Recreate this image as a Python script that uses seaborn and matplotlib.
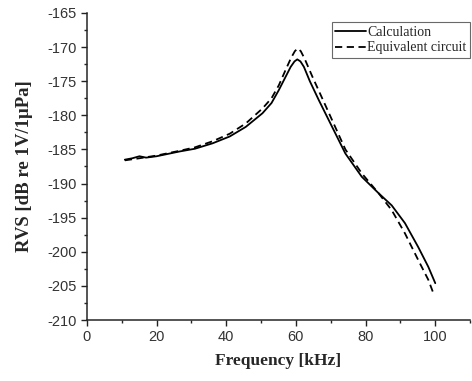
import numpy as np
import pandas as pd
import seaborn as sns
import matplotlib.pyplot as plt
from matplotlib.ticker import MultipleLocator

freq_calc = [10.9, 13, 15.1, 17, 20, 26.6, 31, 36.1, 41, 45.6, 50.4, 53, 55.1, 57, 58.5,
             59.6, 60.4, 61.3, 62.3, 64, 66.6, 70.4, 74.2, 78.9, 83.7, 87.5, 91.3, 95.1, 98, 100]
rvs_calc = [-186.5, -186.3, -186.0, -186.2, -186.0, -185.3, -184.9, -184.1, -183.1, -181.7,
            -179.7, -178.2, -176.3, -174.4, -172.9, -172.1, -171.8, -172.1, -172.9, -175.0,
            -177.8, -181.7, -185.6, -189.0, -191.4, -193.2, -195.8, -199.3, -202.2, -204.6]

freq_eq = [10.9, 15, 20, 26.6, 31, 36.1, 41, 45.6, 50.4, 53, 55.1, 57, 58.6, 59.7, 60.5,
           61.4, 62.5, 64.7, 69.5, 74.2, 78.9, 83.7, 87.5, 91.3, 95.1, 98, 99.7]
rvs_eq = [-186.6, -186.3, -185.9, -185.2, -184.7, -183.8, -182.7, -181.2, -179.0, -177.5,
          -175.6, -173.4, -171.6, -170.6, -170.2, -170.6, -171.7, -174.3, -179.7, -185.0,
          -188.5, -191.4, -193.9, -197.3, -201.2, -204.1, -206.4]

df = pd.concat([
    pd.DataFrame({'f': freq_calc, 'rvs': rvs_calc, 'src': 'Calculation'}),
    pd.DataFrame({'f': freq_eq, 'rvs': rvs_eq, 'src': 'Equivalent circuit'}),
])

sns.set_style('ticks')
plt.rcParams['font.family'] = ['Liberation Sans', 'DejaVu Sans']
plt.rcParams['axes.unicode_minus'] = False

fig = plt.figure(figsize=(4.72, 3.81), dpi=100)
ax = fig.add_axes([0.184, 0.16, 0.812, 0.806])

sns.lineplot(data=df, x='f', y='rvs', hue='src', style='src',
             palette=['black', 'black'], dashes=[(None, None), (4, 2.5)],
             linewidth=1.3, sort=False, ax=ax)

ax.set_xlim(0, 110)
ax.set_ylim(-210, -165)
ax.xaxis.set_major_locator(MultipleLocator(20))
ax.xaxis.set_minor_locator(MultipleLocator(10))
ax.yaxis.set_major_locator(MultipleLocator(5))
ax.yaxis.set_minor_locator(MultipleLocator(2.5))
ax.tick_params(which='major', direction='out', length=4, width=1, labelsize=10.5,
               colors='#222222', labelcolor='#333333')
ax.tick_params(which='minor', direction='out', length=2.5, width=1)
for s in ['top', 'right']:
    ax.spines[s].set_visible(False)
for s in ['left', 'bottom']:
    ax.spines[s].set_linewidth(1.1)

ax.set_xlabel('Frequency [kHz]', fontfamily='Liberation Serif', fontweight='bold', fontsize=12.5, labelpad=6)
ax.set_ylabel('RVS [dB re 1V/1μPa]', fontfamily='Liberation Serif', fontweight='bold', fontsize=13.5, labelpad=10)

leg = ax.legend(loc='upper right', bbox_to_anchor=(1.0, 0.97), frameon=True, fancybox=False,
                prop={'family': 'Liberation Serif', 'size': 10}, handlelength=2.2,
                handletextpad=0.1, borderpad=0.25, labelspacing=0.2, borderaxespad=0)
leg.get_frame().set_edgecolor('#444444')
leg.get_frame().set_linewidth(0.8)

fig.savefig('out.png', dpi=100)
